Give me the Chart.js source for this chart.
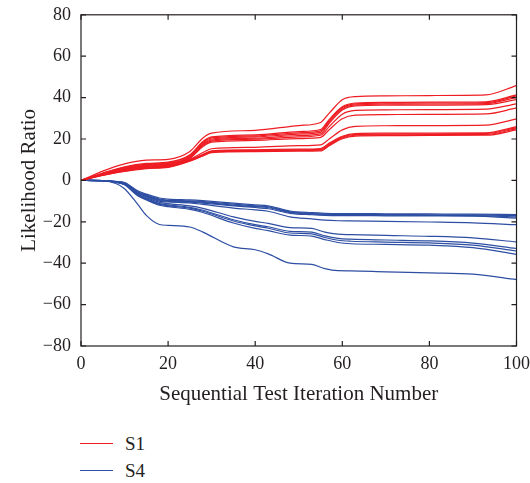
<!DOCTYPE html>
<html>
<head>
<meta charset="utf-8">
<script src="https://cdn.jsdelivr.net/npm/chart.js@4/dist/chart.umd.min.js"></script>
<style>
    html, body { margin: 0; padding: 0; background: #fff; overflow: hidden; }
    #wrap { position: relative; width: 530px; height: 483px; overflow: hidden; font-family: "Liberation Serif", "Times New Roman", Tinos, "DejaVu Serif", serif; color: #231f20; }
    #box { position: absolute; left: 0; top: -6px; width: 537px; height: 416px; }
    #legend { position: absolute; left: 80px; top: 430px; font-size: 19px; }
    #legend .it { display: flex; align-items: center; height: 27px; }
    #legend .ln { width: 33px; height: 0; border-top: 1.3px solid; margin-right: 12px; }
</style>
</head>
<body>
<div id="wrap">
    <div id="box"><canvas id="chart"></canvas></div>
    <div id="legend"></div>
</div>
<script>
/* Likelihood ratio vs sequential test iteration, S1 (red) and S4 (blue) */
const RED = '#ee1d23';
const BLUE = '#2d4ea2';
const INK = '#231f20';
const SERIF = '"Liberation Serif", "Times New Roman", Tinos, "DejaVu Serif", serif';

const xTicks = [0, 20, 40, 60, 80, 100];
const yTicks = [-80, -60, -40, -20, 0, 20, 40, 60, 80];

// S1 runs
const redX = [0, 5, 10, 15, 20, 25, 28, 30, 40, 50, 55, 57, 60, 63, 70, 80, 93, 100];
const s1a = [0, 4.5, 8.0, 9.8, 10.2, 14.0, 20.5, 22.8, 24.2, 26.5, 28.0, 32.5, 39.0, 40.5, 40.8, 41.0, 41.3, 45.8];
const s1b = [0, 3.6, 6.6, 8.2, 8.8, 12.4, 18.8, 21.0, 22.0, 23.6, 24.6, 29.5, 35.6, 37.4, 37.7, 37.8, 38.0, 41.3];
const s1c = [0, 3.4, 6.3, 7.9, 8.5, 12.0, 18.3, 20.5, 21.5, 23.0, 23.9, 29.0, 35.2, 37.0, 37.3, 37.4, 37.6, 40.8];
const s1d = [0, 3.2, 6.0, 7.6, 8.2, 11.6, 17.8, 20.0, 21.0, 22.4, 23.2, 28.3, 34.6, 36.5, 36.8, 36.9, 37.1, 40.1];
const s1e = [0, 3.1, 5.8, 7.3, 7.9, 11.2, 17.3, 19.5, 20.4, 21.7, 22.5, 27.6, 34.0, 36.0, 36.3, 36.4, 36.6, 39.0];
const s1f = [0, 3.0, 5.6, 7.0, 7.6, 10.9, 16.9, 19.0, 19.9, 21.0, 21.8, 26.0, 32.0, 33.8, 34.1, 34.2, 34.4, 37.0];
const s1g = [0, 2.9, 5.4, 6.8, 7.4, 10.6, 16.4, 18.5, 19.3, 20.2, 20.8, 24.5, 29.8, 31.5, 31.8, 31.9, 32.1, 35.0];
const s1h = [0, 2.8, 5.2, 6.5, 7.1, 10.2, 13.5, 15.3, 16.0, 16.8, 17.2, 20.0, 24.4, 26.1, 26.4, 26.5, 26.7, 29.7];
const s1i = [0, 2.7, 5.0, 6.3, 6.9, 9.9, 12.6, 14.3, 14.8, 15.1, 15.4, 18.0, 21.3, 22.6, 22.8, 22.9, 23.0, 26.0];
const s1j = [0, 2.6, 4.8, 6.1, 6.7, 9.7, 12.3, 14.0, 14.5, 14.8, 15.0, 17.5, 20.9, 22.2, 22.4, 22.5, 22.6, 25.5];
const s1k = [0, 2.5, 4.6, 5.9, 6.5, 9.5, 12.0, 13.7, 14.2, 14.5, 14.6, 17.1, 20.5, 21.8, 22.0, 22.1, 22.2, 25.0];
const s1l = [0, 2.4, 4.3, 5.7, 6.3, 9.3, 11.8, 13.4, 13.9, 14.1, 14.2, 16.7, 20.1, 21.4, 21.6, 21.7, 21.8, 24.4];

// S4 runs
const blueX = [0, 5, 8, 10, 13, 15, 18, 20, 25, 28, 35, 40, 43, 48, 53, 56, 59, 62, 70, 80, 90, 100];
const s4a = [0, -0.1, -0.5, -1.0, -5.0, -6.6, -8.5, -9.0, -9.4, -9.8, -11.0, -11.8, -12.3, -14.8, -15.6, -15.9, -16.0, -16.0, -16.1, -16.2, -16.3, -16.5];
const s4b = [0, -0.1, -0.6, -1.2, -5.4, -7.0, -9.0, -9.5, -9.9, -10.3, -11.5, -12.3, -12.8, -15.2, -16.0, -16.3, -16.4, -16.4, -16.5, -16.6, -16.7, -17.0];
const s4c = [0, -0.1, -0.6, -1.3, -5.7, -7.3, -9.3, -9.8, -10.2, -10.6, -11.9, -12.7, -13.2, -15.5, -16.3, -16.6, -16.7, -16.7, -16.8, -16.9, -17.0, -17.6];
const s4d = [0, -0.1, -0.7, -1.4, -6.0, -7.6, -9.6, -10.1, -10.5, -11.0, -12.3, -13.1, -13.7, -15.9, -16.6, -16.9, -17.0, -17.0, -17.1, -17.2, -17.3, -18.2];
const s4e = [0, -0.1, -0.7, -1.5, -6.2, -7.9, -10.0, -10.4, -10.9, -11.6, -13.4, -14.2, -14.9, -17.6, -18.6, -19.2, -19.5, -19.6, -19.8, -20.1, -20.5, -21.4];
const s4f = [0, -0.1, -0.8, -1.8, -6.6, -8.4, -10.6, -11.2, -12.3, -13.5, -17.6, -19.8, -20.8, -22.8, -23.2, -25.0, -26.0, -26.2, -26.6, -27.0, -27.8, -29.7];
const s4g = [0, -0.1, -0.8, -1.9, -6.9, -8.8, -11.2, -11.8, -13.0, -14.4, -19.0, -21.4, -22.4, -24.6, -25.0, -26.8, -28.0, -28.4, -28.8, -29.2, -30.3, -32.9];
const s4h = [0, -0.1, -0.9, -2.0, -7.1, -9.1, -11.6, -12.2, -13.4, -14.9, -19.6, -22.0, -23.1, -25.4, -25.8, -27.6, -28.9, -29.4, -29.8, -30.2, -31.3, -34.1];
const s4i = [0, -0.1, -0.9, -2.1, -7.4, -9.4, -12.0, -12.7, -14.0, -15.5, -20.6, -23.2, -24.3, -26.4, -26.9, -28.6, -30.0, -30.6, -30.9, -31.3, -32.5, -35.7];
const s4j = [0, -0.2, -1.5, -4.0, -11.5, -16.9, -21.3, -21.7, -22.5, -25.0, -32.1, -33.5, -35.5, -40.0, -40.6, -42.6, -43.6, -43.7, -44.2, -44.7, -45.3, -47.9];

const s1Runs = [s1a, s1b, s1c, s1d, s1e, s1f, s1g, s1h, s1i, s1j, s1k, s1l];
const s4Runs = [s4a, s4b, s4c, s4d, s4e, s4f, s4g, s4h, s4i, s4j];

function makeSet(xs, ys, color, label) {
    return {
        label,
        data: xs.map((x, i) => ({ x, y: ys[i] })),
        borderColor: color,
        borderWidth: 1.2,
        pointRadius: 0,
        fill: false,
        cubicInterpolationMode: 'monotone',
    };
}

const datasets = [
    ...s1Runs.map((r, i) => makeSet(redX, r, RED, i === 0 ? 'S1' : '')),
    ...s4Runs.map((r, i) => makeSet(blueX, r, BLUE, i === 0 ? 'S4' : '')),
];

// box round the plot with ticks pointing inwards on all four sides
const frame = {
    id: 'frame',
    afterDatasetsDraw(chart) {
        const { ctx, chartArea: a, scales: { x, y } } = chart;
        const len = 5;
        ctx.save();
        ctx.strokeStyle = INK;
        ctx.lineWidth = 1.2;
        ctx.strokeRect(a.left, a.top, a.right - a.left, a.bottom - a.top);
        ctx.beginPath();
        xTicks.forEach((v) => {
            const px = x.getPixelForValue(v);
            ctx.moveTo(px, a.bottom); ctx.lineTo(px, a.bottom - len);
            ctx.moveTo(px, a.top); ctx.lineTo(px, a.top + len);
        });
        yTicks.forEach((v) => {
            const py = y.getPixelForValue(v);
            ctx.moveTo(a.left, py); ctx.lineTo(a.left + len, py);
            ctx.moveTo(a.right, py); ctx.lineTo(a.right - len, py);
        });
        ctx.stroke();
        ctx.restore();
    },
};

const tickFont = { family: SERIF, size: 18 };
const titleFont = { family: SERIF, size: 21 };
const minus = (v) => String(v).replace('-', '\u2212');

new Chart(document.getElementById('chart'), {
    type: 'line',
    data: { datasets },
    options: {
        responsive: true,
        maintainAspectRatio: false,
        animation: false,
        layout: { padding: { top: 8, right: 7, left: 0, bottom: 0 } },
        plugins: { legend: { display: false }, tooltip: { enabled: false } },
        scales: {
            x: {
                type: 'linear',
                min: 0,
                max: 100,
                afterBuildTicks: (s) => { s.ticks = xTicks.map((v) => ({ value: v })); },
                grid: { display: false, drawTicks: false },
                border: { display: false },
                ticks: { font: tickFont, color: INK, padding: 7, maxRotation: 0, callback: minus },
                title: { display: true, text: 'Sequential Test Iteration Number', font: titleFont, color: INK, padding: { top: 6, bottom: 3 } },
                afterFit: (s) => { s.height = 64; },
            },
            y: {
                min: -80,
                max: 80,
                afterBuildTicks: (s) => { s.ticks = yTicks.map((v) => ({ value: v })); },
                grid: { display: false, drawTicks: false },
                border: { display: false },
                ticks: { font: tickFont, color: INK, padding: 10, callback: minus },
                title: { display: true, text: 'Likelihood Ratio', font: titleFont, color: INK, padding: { top: 17, bottom: 0 } },
                afterFit: (s) => { s.width = 81; },
            },
        },
    },
    plugins: [frame],
});

// legend: one entry per group
document.getElementById('legend').innerHTML = [['S1', RED], ['S4', BLUE]]
    .map(([name, c]) => `<div class="it"><span class="ln" style="border-color:${c}"></span>${name}</div>`)
    .join('');
</script>
</body>
</html>
